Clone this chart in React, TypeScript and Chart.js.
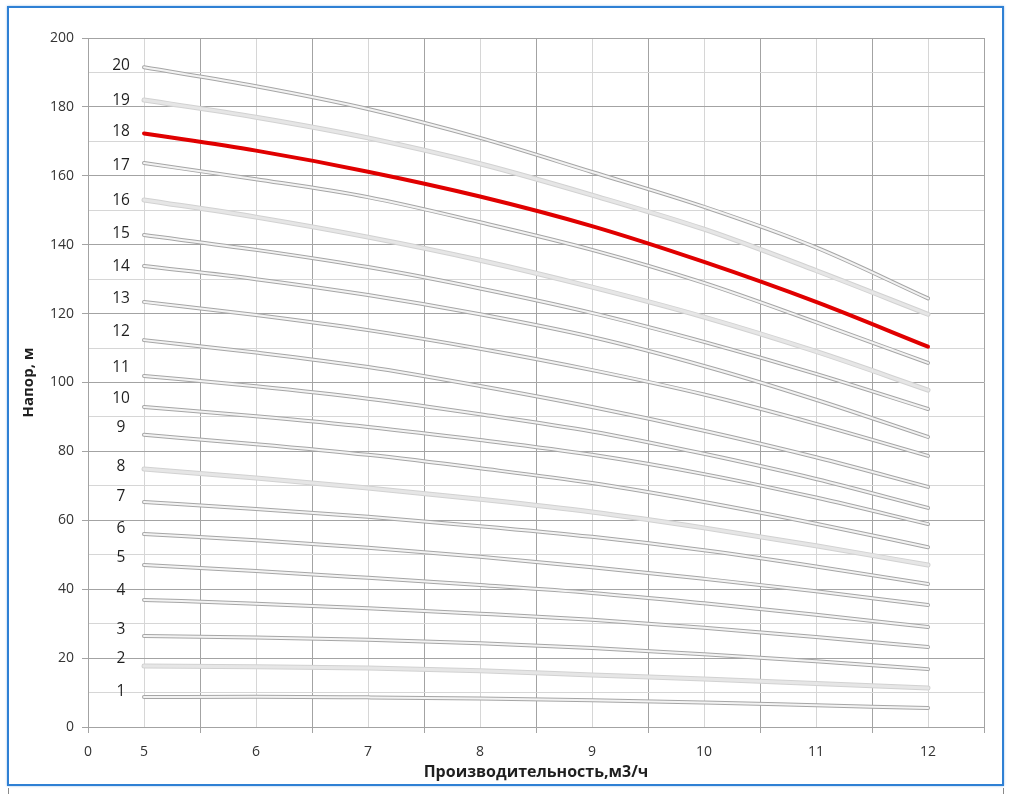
import React, { useEffect, useRef } from "react";
import { Chart, registerables } from "chart.js";

Chart.register(...registerables);

const flows = [5, 6, 7, 8, 9, 10, 11, 12];

const curveNames = ["1","2","3","4","5","6","7","8","9","10","11","12","13","14","15","16","17","18","19","20"];

const h1 = [8.7, 8.8, 8.6, 8.3, 7.8, 7.1, 6.3, 5.5];
const h2 = [17.7, 17.5, 17.1, 16.3, 15.1, 13.9, 12.6, 11.3];
const h3 = [26.4, 26.0, 25.3, 24.3, 22.9, 21.1, 19.1, 16.8];
const h4 = [36.9, 35.8, 34.5, 32.9, 31.1, 28.8, 26.1, 23.2];
const h5 = [47.0, 45.3, 43.3, 41.2, 38.9, 35.9, 32.6, 29.0];
const h6 = [56.0, 54.2, 52.0, 49.4, 46.4, 43.0, 39.4, 35.4];
const h7 = [65.3, 63.3, 61.0, 58.3, 55.2, 51.3, 46.6, 41.5];
const h8 = [74.9, 72.3, 69.4, 66.1, 62.4, 57.8, 52.6, 47.0];
const h9 = [84.8, 82.1, 79.0, 75.1, 70.8, 65.3, 59.0, 52.2];
const h10 = [92.9, 90.2, 87.1, 83.3, 79.0, 73.4, 66.6, 58.9];
const h11 = [101.9, 98.9, 95.3, 90.8, 85.8, 79.3, 72.0, 63.6];
const h12 = [112.3, 108.7, 104.5, 99.0, 92.9, 86.0, 78.3, 69.7];
const h13 = [123.4, 119.6, 115.2, 109.8, 103.6, 96.5, 88.0, 78.7];
const h14 = [133.8, 130.0, 125.4, 119.8, 113.2, 104.8, 95.0, 84.2];
const h15 = [142.8, 138.5, 133.5, 127.3, 120.2, 111.8, 102.5, 92.3];
const h16 = [153.0, 148.0, 142.2, 135.5, 127.7, 119.0, 109.0, 97.8];
const h17 = [163.7, 159.0, 153.8, 146.5, 138.5, 128.9, 117.5, 105.7];
const h18 = [172.3, 167.3, 161.2, 154.0, 145.4, 135.0, 123.4, 110.4];
const h19 = [182.0, 177.0, 171.0, 163.5, 154.4, 144.5, 132.5, 119.8];
const h20 = [191.5, 186.0, 179.4, 171.0, 161.1, 151.0, 139.2, 124.4];

const heads = [h1, h2, h3, h4, h5, h6, h7, h8, h9, h10, h11, h12, h13, h14, h15, h16, h17, h18, h19, h20];

// curve styles: "double" (outlined), "light" (pale thick), "red"
const curveStyles = ["double","light","double","double","double","double","double","light","double","double","double","double","double","double","double","light","double","red","light","double"];

// label anchor (value units) for the curve number texts
const labelFlow = 4.795;
const labelHeads = [10.3, 19.9, 28.3, 39.6, 49.2, 57.6, 66.9, 75.6, 87.0, 95.4, 104.4, 114.8, 124.4, 133.7, 143.2, 152.7, 162.9, 172.9, 181.7, 191.9];

const xTickLabelZero = "0";
const xTitle = "Производительность,м3/ч";
const yTitle = "Напор, м";

const DARK = "#a3a3a3";
const LIGHT = "#d6d6d6";
const FONT = "'Open Sans', 'Noto Sans', sans-serif";

export default function App() {
  const ref = useRef<HTMLCanvasElement | null>(null);

  useEffect(() => {
    const canvas = ref.current;
    if (!canvas) return;
    const datasets: any[] = [];
    heads.forEach((h, i) => {
      const pts = flows.map((f, j) => ({ x: f, y: h[j] }));
      const st = curveStyles[i];
      if (st === "red") {
        datasets.push({
          data: pts, borderColor: "#e00000", borderWidth: 4, pointRadius: 0,
          cubicInterpolationMode: "monotone", borderCapStyle: "round", order: -1,
        });
      } else if (st === "light") {
        datasets.push({
          data: pts, borderColor: "#d2d2d2", borderWidth: 5, pointRadius: 0,
          cubicInterpolationMode: "monotone", borderCapStyle: "round", order: 2,
        });
        datasets.push({
          data: pts, borderColor: "#e6e6e6", borderWidth: 3, pointRadius: 0,
          cubicInterpolationMode: "monotone", borderCapStyle: "round", order: 1,
        });
      } else {
        datasets.push({
          data: pts, borderColor: "#a6a6a6", borderWidth: 4, pointRadius: 0,
          cubicInterpolationMode: "monotone", borderCapStyle: "round", order: 2,
        });
        datasets.push({
          data: pts, borderColor: "#f3f3f3", borderWidth: 2, pointRadius: 0,
          cubicInterpolationMode: "monotone", borderCapStyle: "round", order: 1,
        });
      }
    });

    const labelPlugin = {
      id: "curveLabels",
      afterDatasetsDraw(chart: any) {
        const { ctx, scales } = chart;
        ctx.save();
        ctx.font = `15.5px ${FONT}`;
        ctx.fillStyle = "#1f1f1f";
        ctx.textAlign = "center";
        ctx.textBaseline = "middle";
        curveNames.forEach((n, i) => {
          const x = scales.x.getPixelForValue(labelFlow);
          const y = scales.y.getPixelForValue(labelHeads[i]);
          ctx.fillText(n, x, y);
        });
        ctx.restore();
      },
    };

    const chart = new Chart(canvas, {
      type: "line",
      data: { datasets },
      options: {
        animation: false,
        responsive: false,
        layout: { padding: { left: 0, top: 38, right: 29, bottom: 0 } },
        plugins: { legend: { display: false }, tooltip: { enabled: false } },
        scales: {
          x: {
            type: "linear",
            min: 4.5,
            max: 12.5,
            afterFit(scale: any) { scale.height = 67; },
            ticks: {
              stepSize: 0.5,
              autoSkip: false,
              maxRotation: 0,
              padding: 11,
              color: "#333333",
              font: { family: FONT, size: 14 },
              callback(v: any) {
                const n = Number(v);
                if (Math.abs(n - 4.5) < 1e-6) return xTickLabelZero;
                if (Number.isInteger(n)) return String(n);
                return "";
              },
            },
            grid: {
              color: (c: any) => (Number.isInteger(c.tick?.value) ? LIGHT : DARK),
              tickColor: (c: any) => (Number.isInteger(c.tick?.value) ? "rgba(0,0,0,0)" : DARK),
              tickLength: 6,
              lineWidth: 1,
            },
            border: { color: DARK },
            title: {
              display: true,
              text: xTitle,
              color: "#1f1f1f",
              font: { family: FONT, size: 16, weight: "bold" },
              padding: { top: 0, bottom: 12 },
            },
          },
          y: {
            type: "linear",
            min: 0,
            max: 200,
            afterFit(scale: any) { scale.width = 88; },
            ticks: {
              stepSize: 10,
              autoSkip: false,
              padding: 8,
              color: "#333333",
              font: { family: FONT, size: 14 },
              callback(v: any) {
                const n = Number(v);
                return n % 20 === 0 ? String(n) : "";
              },
            },
            grid: {
              color: (c: any) => ((c.tick?.value ?? 0) % 20 === 0 ? DARK : LIGHT),
              tickColor: (c: any) => ((c.tick?.value ?? 0) % 20 === 0 ? DARK : "rgba(0,0,0,0)"),
              tickLength: 6,
              lineWidth: 1,
            },
            border: { color: DARK },
            title: {
              display: true,
              text: yTitle,
              color: "#1f1f1f",
              font: { family: FONT, size: 15, weight: "bold" },
              padding: { top: 20, bottom: 0 },
            },
          },
        },
      },
      plugins: [labelPlugin],
    } as any);
    return () => chart.destroy();
  }, []);

  return (
    <div style={{ position: "absolute", left: 0, top: 0, width: 1013, height: 794, background: "#ffffff", overflow: "hidden" }}>
      <div style={{ position: "absolute", left: 7, top: 6, width: 993, height: 776, border: "2px solid #2f80d4", boxShadow: "0 0 2px rgba(47,128,212,0.5)" }} />
      <div style={{ position: "absolute", left: 8, top: 788, width: 994, height: 20, borderLeft: "1px solid #8a8a8a", borderRight: "1px solid #8a8a8a" }} />
      <canvas ref={ref} width={1013} height={794} style={{ position: "absolute", left: 0, top: 0, width: 1013, height: 794 }} />
    </div>
  );
}
